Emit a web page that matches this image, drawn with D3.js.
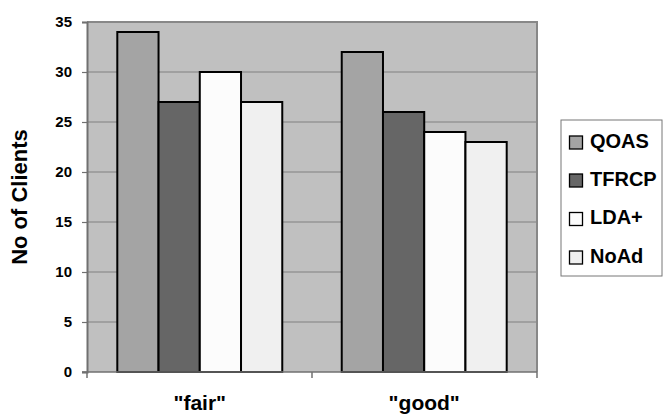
<!DOCTYPE html>
<html><head><meta charset="utf-8">
<script src="https://cdn.jsdelivr.net/npm/d3@7"></script>
<style>body{margin:0;background:#fff}svg{display:block;font-family:Arial,"Liberation Sans",sans-serif}</style>
</head><body><svg id="c" width="663" height="414"></svg>
<script>
const categories = ['"fair"', '"good"'];
const seriesNames = ["QOAS", "TFRCP", "LDA+", "NoAd"];
const QOAS = [34, 32];
const TFRCP = [27, 26];
const LDAplus = [30, 24];
const NoAd = [27, 23];
const seriesValues = [QOAS, TFRCP, LDAplus, NoAd];
const yTicks = [0, 5, 10, 15, 20, 25, 30, 35];
const colors = ["#a4a4a4", "#666666", "#fcfcfc", "#f0f0f0"];

const svg = d3.select("#c");
const L = 87, R = 537, T = 22, B = 372;
const x0 = d3.scaleBand().domain(categories).range([L, R]).paddingInner(0.265).paddingOuter(0.135);
const x1 = d3.scaleBand().domain(seriesNames).range([0, x0.bandwidth()]);
const y = d3.scaleLinear().domain([0, 35]).range([B, T]);

// plot background
svg.append("rect").attr("x", L).attr("y", T).attr("width", R - L).attr("height", B - T).attr("fill", "#c0c0c0");
// gridlines
svg.append("g").selectAll("line").data(yTicks.filter(d => d > 0 && d < 35)).join("line")
  .attr("x1", L).attr("x2", R).attr("y1", d => y(d)).attr("y2", d => y(d))
  .attr("stroke", "#808080").attr("stroke-width", 1.2);
// top & right border
svg.append("path").attr("d", `M${L},${T}H${R}V${B}`).attr("fill", "none").attr("stroke", "#888").attr("stroke-width", 2);

// bars
const g = svg.append("g");
categories.forEach((c, ci) => {
  seriesNames.forEach((s, si) => {
    const v = seriesValues[si][ci];
    g.append("rect").attr("x", x0(c) + x1(s)).attr("y", y(v))
      .attr("width", x1.bandwidth()).attr("height", y(0) - y(v))
      .attr("fill", colors[si]).attr("stroke", "#000").attr("stroke-width", 2);
  });
});

// y axis
const ya = svg.append("g").attr("transform", `translate(${L},0)`)
  .call(d3.axisLeft(y).tickValues(yTicks).tickSize(5).tickPadding(10));
ya.select(".domain").attr("stroke", "#707070").attr("stroke-width", 2);
ya.selectAll(".tick line").attr("stroke", "#707070").attr("stroke-width", 1.2);
ya.selectAll("text").attr("font-size", 15).attr("font-weight", "bold").attr("fill", "#000")
  .attr("font-family", "Arial, 'Liberation Sans', sans-serif");

// x axis
const xa = svg.append("g").attr("transform", `translate(0,${B})`);
xa.append("line").attr("x1", L - 5).attr("x2", R).attr("y1", 0).attr("y2", 0).attr("stroke", "#707070").attr("stroke-width", 1.5);
const bounds = [L, (x0(categories[0]) + x0.bandwidth() + x0(categories[1])) / 2, R];
xa.selectAll(".xt").data(bounds).join("line").attr("class", "xt")
  .attr("x1", d => d).attr("x2", d => d).attr("y1", 0).attr("y2", 6).attr("stroke", "#707070").attr("stroke-width", 1.5);
xa.selectAll("text").data(categories).join("text")
  .attr("x", d => x0(d) + x0.bandwidth() / 2).attr("y", 38)
  .attr("text-anchor", "middle").attr("font-size", 21).attr("font-weight", "bold").text(d => d);

// y label
svg.append("text").attr("transform", `translate(27,${(T + B) / 2}) rotate(-90)`)
  .attr("text-anchor", "middle").attr("font-size", 22).attr("font-weight", "bold").text("No of Clients");

// legend
const lg = svg.append("g");
lg.append("rect").attr("x", 561).attr("y", 120).attr("width", 101).attr("height", 156)
  .attr("fill", "#fff").attr("stroke", "#777").attr("stroke-width", 1);
const rowBase = [147.5, 185.5, 224, 262.5];
seriesNames.forEach((s, i) => {
  lg.append("rect").attr("x", 569.5).attr("y", rowBase[i] - 11.5).attr("width", 13).attr("height", 13)
    .attr("fill", colors[i]).attr("stroke", "#000").attr("stroke-width", 1.3);
  lg.append("text").attr("x", 590).attr("y", rowBase[i]).attr("font-size", 20).attr("font-weight", "bold").text(s);
});
</script></body></html>
